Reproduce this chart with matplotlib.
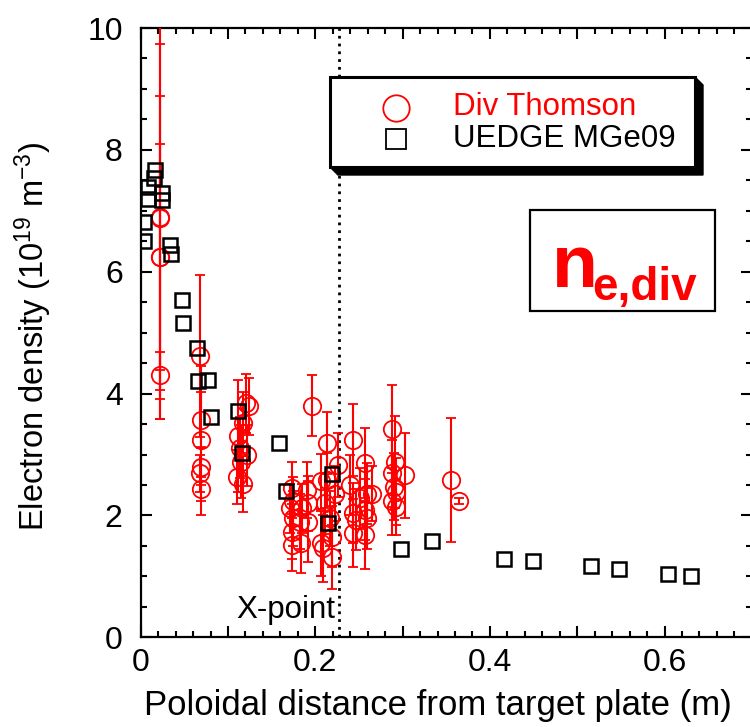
import matplotlib
matplotlib.use("Agg")
import matplotlib.pyplot as plt
from matplotlib.patches import Rectangle, Polygon
from matplotlib.ticker import MultipleLocator

plt.rcParams['font.family'] = ['Liberation Sans', 'DejaVu Sans']
plt.rcParams['mathtext.fontset'] = 'custom'
plt.rcParams['mathtext.rm'] = 'Liberation Sans'
plt.rcParams['mathtext.it'] = 'Liberation Sans:italic'
plt.rcParams['mathtext.bf'] = 'Liberation Sans:bold'

# ---------------- data ----------------
# UEDGE MGe09 (squares)
uedge_x = [0.016, 0.015, 0.008, 0.008, 0.024, 0.024, 0.004, 0.004, 0.034, 0.035,
           0.047, 0.048, 0.064, 0.066, 0.077, 0.081, 0.111, 0.116, 0.158, 0.167,
           0.219, 0.215, 0.298, 0.334, 0.416, 0.449, 0.516, 0.548, 0.604, 0.630]
uedge_y = [7.67, 7.53, 7.39, 7.20, 7.29, 7.18, 6.82, 6.51, 6.44, 6.29,
           5.54, 5.16, 4.75, 4.20, 4.23, 3.62, 3.72, 3.03, 3.19, 2.40,
           2.68, 1.88, 1.45, 1.58, 1.29, 1.25, 1.17, 1.12, 1.04, 1.01]

# Div Thomson (circles with error bars)
thomson_x = [0.0225, 0.0225, 0.0225, 0.0225, 0.0225,
             0.068, 0.069, 0.069, 0.069, 0.068, 0.069,
             0.121, 0.124, 0.117, 0.114, 0.122, 0.115, 0.110, 0.117, 0.111,
             0.196,
             0.173, 0.175, 0.171, 0.175, 0.173, 0.173, 0.184, 0.182, 0.190, 0.192, 0.192, 0.185,
             0.213, 0.213, 0.207, 0.226, 0.223, 0.211, 0.217, 0.207, 0.219, 0.219, 0.209,
             0.243, 0.240, 0.243, 0.243, 0.257, 0.259, 0.251, 0.265, 0.257, 0.259, 0.257, 0.247,
             0.2875, 0.291, 0.288, 0.303, 0.290, 0.293, 0.288, 0.293,
             0.355, 0.365]
thomson_y = [6.88, 6.90, 6.24, 6.24, 4.30,
             4.61, 3.57, 3.23, 2.80, 2.69, 2.43,
             3.84, 3.79, 3.52, 3.11, 2.99, 2.88, 2.63, 2.52, 3.30,
             3.80,
             2.45, 2.23, 2.12, 1.95, 1.73, 1.52, 1.54, 1.90, 2.42, 2.20, 1.90, 2.12,
             3.19, 2.58, 2.56, 2.83, 2.36, 2.20, 1.95, 1.54, 1.65, 1.32, 1.46,
             3.24, 2.50, 2.04, 1.71, 2.86, 2.36, 2.28, 2.36, 2.09, 1.95, 1.68, 1.93,
             3.42, 2.88, 2.69, 2.66, 2.47, 2.39, 2.23, 2.14,
             2.58, 2.24]
thomson_err = [3.30, 2.84, 2.65, 1.86, 0.39,
               1.33, 0.45, 1.22, 0.30, 0.30, 0.20,
               0.48, 0.47, 0.50, 0.50, 0.50, 0.60, 0.45, 0.46, 0.92,
               0.50,
               0.43, 0.40, 0.40, 0.45, 0.45, 0.44, 0.49, 0.45, 0.46, 0.45, 0.66, 0.40,
               0.51, 0.45, 0.45, 0.52, 0.45, 0.50, 0.45, 0.54, 0.50, 0.52, 0.55,
               0.59, 0.50, 0.50, 0.56, 0.57, 0.50, 0.50, 0.45, 0.50, 0.50, 0.56, 0.50,
               0.72, 0.75, 0.55, 0.70, 0.55, 0.55, 0.55, 0.46,
               1.02, 0.05]

xpoint_x = 0.227

legend_labels = ["Div Thomson", "UEDGE MGe09"]
xlabel = "Poloidal distance from target plate (m)"
ylabel = "Electron density (10$^{19}$ m$^{\\mathrm{-3}}$)"

# ---------------- figure ----------------
W, H = 750, 727
fig = plt.figure(figsize=(W / 100, H / 100), dpi=100)

def fx(px):
    return px / W

def fy(py):
    return 1 - py / H

ax_left, ax_right, ax_top, ax_bot = 140.7, 751.8, 28.0, 637.3
ax = fig.add_axes([fx(ax_left), fy(ax_bot), fx(ax_right - ax_left), (ax_bot - ax_top) / H])
ax.set_xlim(0, 0.7)
ax.set_ylim(0, 10)

red = '#ff0000'
ax.errorbar(thomson_x, thomson_y, yerr=thomson_err, fmt='o', ms=12.5, mfc='none',
            mec=red, mew=1.3, ecolor=red, elinewidth=1.5, capsize=3.5, capthick=1.5,
            zorder=3, clip_on=True)
ax.plot(uedge_x, uedge_y, 's', ms=9.5, mfc='none', mec='black', mew=1.8, zorder=4)

ax.axvline(xpoint_x, color='black', lw=2.0, ls=(0, (1, 1.8)), zorder=2)
ax.text(xpoint_x - 0.004, 0.44, "X-point", ha='right', va='center', fontsize=22.5)

ax.xaxis.set_minor_locator(MultipleLocator(0.02))
ax.yaxis.set_minor_locator(MultipleLocator(0.5))
ax.set_xticks([0, 0.1, 0.2, 0.3, 0.4, 0.5, 0.6])
ax.set_xticklabels(['0', '', '0.2', '', '0.4', '', '0.6'])
ax.set_yticks([0, 2, 4, 6, 8, 10])
ax.set_yticklabels(['0', '2', '4', '6', '8', '10'])
ax.tick_params(which='both', direction='in', top=True, right=True, width=1.5, labelsize=23)
ax.tick_params(which='major', length=8)
ax.tick_params(which='minor', length=4.5)
ax.tick_params(axis='y', which='major', pad=13)
ax.tick_params(axis='x', which='major', pad=8)
for s in ax.spines.values():
    s.set_linewidth(1.6)

fig.text(fx(438), fy(705), xlabel, ha='center', va='center', fontsize=25)
fig.text(fx(33), fy(336), ylabel, ha='center', va='center', rotation=90, fontsize=23.5)

# ---------------- legend box with shadow ----------------
lx0, ly0, lx1, ly1 = 330, 77, 695, 167
sh = 8
fig.patches.append(Polygon([(fx(lx0), fy(ly1)), (fx(lx0 + sh), fy(ly1 + sh)),
                            (fx(lx1 + sh), fy(ly1 + sh)), (fx(lx1 + sh), fy(ly0 + sh)),
                            (fx(lx1), fy(ly0))], closed=True, transform=fig.transFigure,
                           facecolor='black', edgecolor='black', zorder=5))
fig.patches.append(Rectangle((fx(lx0), fy(ly1)), fx(lx1 - lx0), (ly1 - ly0) / H,
                             transform=fig.transFigure, facecolor='white',
                             edgecolor='black', lw=2.2, zorder=6))
fig.lines.append(plt.Line2D([fx(396)], [fy(108)], marker='o', ms=19, mfc='none',
                            mec=red, mew=1.3, transform=fig.transFigure, zorder=7))
fig.lines.append(plt.Line2D([fx(396)], [fy(139)], marker='s', ms=14.5, mfc='none',
                            mec='black', mew=1.3, transform=fig.transFigure, zorder=7))
fig.text(fx(453), fy(107), legend_labels[0], color=red, fontsize=22.5,
         ha='left', va='center', zorder=7)
fig.text(fx(453), fy(139), legend_labels[1], color='black', fontsize=22.5,
         ha='left', va='center', zorder=7)

# ---------------- n_e,div box ----------------
bx0, by0, bx1, by1 = 530, 210, 715, 311
fig.patches.append(Rectangle((fx(bx0), fy(by1)), fx(bx1 - bx0), (by1 - by0) / H,
                             transform=fig.transFigure, facecolor='white',
                             edgecolor='black', lw=1.6, zorder=6))
fig.text(fx(552), fy(287), "n", color=red, fontsize=54, fontweight='bold',
         ha='left', va='baseline', zorder=7)
fig.text(fx(592), fy(300), "e,div", color=red, fontsize=33, fontweight='bold',
         ha='left', va='baseline', zorder=7)

fig.savefig("out.png", dpi=100)
